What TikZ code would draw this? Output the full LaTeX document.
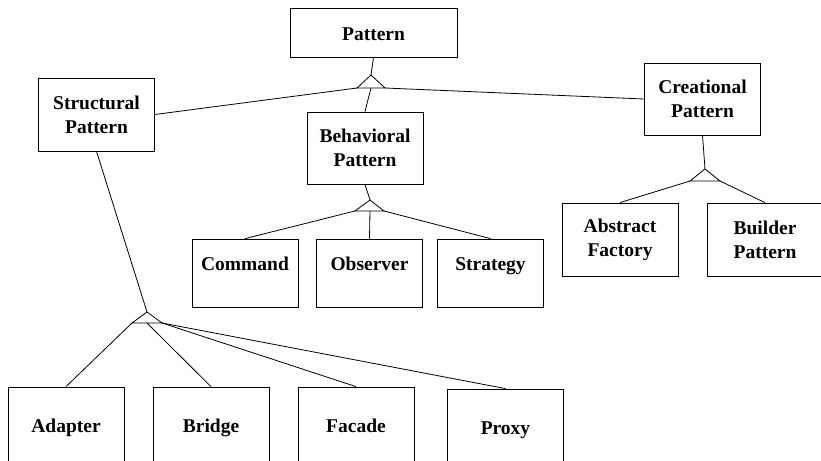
\documentclass[tikz,border=0pt]{standalone}
\usepackage{fontspec}
\setmainfont{Liberation Serif}
\usetikzlibrary{positioning}

\begin{document}
\begin{tikzpicture}[
    x=1pt, y=-1pt,
    box/.style={rectangle, draw, line width=0.8pt, align=center, inner sep=0pt, minimum width=116pt, minimum height=72pt, font=\fontsize{19.5}{24}\selectfont\bfseries},
    leaf/.style={box, minimum height=0pt, minimum width=106pt, text height=31pt, text depth=37pt},
    low/.style={box, minimum height=0pt, text height=45pt, text depth=31pt},
    link/.style={line width=0.8pt}
]
    \useasboundingbox (0,0) rectangle (821,460);
    \clip (0,0) rectangle (821,460);

    % boxes
    \node[box, minimum width=167pt, minimum height=0pt, text height=33pt, text depth=16pt] (pattern) at (373.5,32.5) {Pattern};
    \node[box, minimum height=73pt] (structural) at (96.5,114.5) {Structural\\Pattern};
    \node[box] (behavioral) at (365,148) {Behavioral\\Pattern};
    \node[box] (creational) at (702.5,99) {Creational\\Pattern};

    \node[box, minimum height=73pt] (abstract) at (620,239.5) {Abstract\\Factory};
    \node[box, minimum height=73pt] (builder) at (765,239.5) {Builder\\Pattern};

    \node[leaf] (command) at (245,273) {Command};
    \node[leaf] (observer) at (369.5,273) {Observer};
    \node[leaf] (strategy) at (490.5,273) {Strategy};

    \node[low] (adapter) at (66,425) {Adapter};
    \node[low] (bridge) at (211,425) {Bridge};
    \node[low] (facade) at (356,425) {Facade};
    \node[low] (proxy) at (505.5,427) {Proxy};

    % generalisation triangles
    \coordinate (top-a) at (371,75);
    \coordinate (top-l) at (357,88);
    \coordinate (top-r) at (385,88);
    \coordinate (top-m) at (371,88);

    \coordinate (beh-a) at (370,200);
    \coordinate (beh-l) at (355,211);
    \coordinate (beh-r) at (384,211);
    \coordinate (beh-m) at (370,211);

    \coordinate (cre-a) at (705,169);
    \coordinate (cre-l) at (690,181);
    \coordinate (cre-r) at (720,181);

    \coordinate (str-a) at (147,312);
    \coordinate (str-l) at (132,323);
    \coordinate (str-r) at (162,323);
    \coordinate (str-m) at (147,323);

    \draw[link] (top-l) -- (top-a) -- (top-r) -- cycle;
    \draw[link] (beh-l) -- (beh-a) -- (beh-r) -- cycle;
    \draw[link] (cre-l) -- (cre-a) -- (cre-r) -- cycle;
    \draw[link] (str-l) -- (str-a) -- (str-r) -- cycle;

    % connectors
    \draw[link] (pattern.south) -- (top-a);
    \draw[link] (top-l) -- (structural.east);
    \draw[link] (top-r) -- (creational.west);
    \draw[link] (top-m) -- (behavioral.north);

    \draw[link] (behavioral.south) -- (beh-a);
    \draw[link] (beh-l) -- (command.north);
    \draw[link] (beh-m) -- (observer.north);
    \draw[link] (beh-r) -- (strategy.north);

    \draw[link] (creational.south) -- (cre-a);
    \draw[link] (cre-l) -- (abstract.north);
    \draw[link] (cre-r) -- (builder.north);

    \draw[link] (structural.south) -- (str-a);
    \draw[link] (str-l) -- (adapter.north);
    \draw[link] (str-m) -- (bridge.north);
    \draw[link] (str-r) -- (facade.north);
    \draw[link] (str-r) -- (proxy.north);
\end{tikzpicture}
\end{document}
